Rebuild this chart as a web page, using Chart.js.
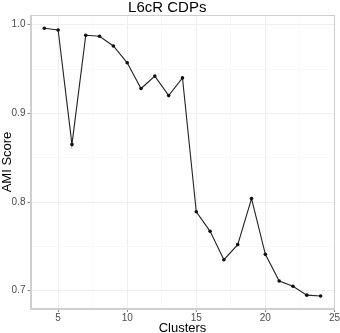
<!DOCTYPE html>
<html>
<head>
<meta charset="utf-8">
<script src="https://cdn.jsdelivr.net/npm/chart.js@4"></script>
<style>
html,body{margin:0;padding:0;background:#fff;}
#wrap{width:340px;height:333px;}
</style>
</head>
<body>
<div id="wrap"><canvas id="c" width="340" height="333"></canvas></div>
<script>
const clusters = [4,5,6,7,8,9,10,11,12,13,14,15,16,17,18,19,20,21,22,23,24];
const amiScores = [0.996,0.994,0.865,0.988,0.987,0.976,0.957,0.928,0.942,0.920,0.940,0.789,0.767,0.735,0.752,0.804,0.741,0.711,0.705,0.695,0.694];
const xTicks = [5,10,15,20,25];
const yTicks = [0.7,0.8,0.9,1.0];
const xMinor = [7.5,12.5,17.5,22.5];
const yMinor = [0.75,0.85,0.95];

const panelBorder = {
  id:'panelBorder',
  afterDraw(chart){
    const a = chart.chartArea, ctx = chart.ctx;
    ctx.save();
    ctx.strokeStyle = '#cfcfcf';
    ctx.lineWidth = 1;
    ctx.strokeRect(Math.round(a.left)+0.5, Math.round(a.top)+0.5, Math.round(a.right-a.left)-1, Math.round(a.bottom-a.top)-1);
    ctx.restore();
  }
};

const isMajor = (list, v) => list.some(t => Math.abs(t - v) < 1e-9);

new Chart(document.getElementById('c'), {
  type: 'line',
  data: {
    datasets: [{
      data: clusters.map((c,i)=>({x:c, y:amiScores[i]})),
      borderColor: '#222',
      backgroundColor: '#111',
      borderWidth: 1.1,
      pointRadius: 1.8,
      pointBorderWidth: 0,
      pointBackgroundColor: '#111',
      tension: 0,
      fill: false
    }]
  },
  options: {
    responsive: false,
    animation: false,
    devicePixelRatio: 1,
    layout: { padding: { left: 0, right: 5.5, top: 0, bottom: 0 } },
    plugins: {
      legend: { display: false },
      tooltip: { enabled: false },
      title: {
        display: true,
        text: 'L6cR CDPs',
        color: '#000',
        font: { family: 'Liberation Sans, Arial, sans-serif', size: 15, weight: 'normal', lineHeight: 1 },
        padding: { top: 0, bottom: 0 },
        align: 'center'
      }
    },
    scales: {
      x: {
        type: 'linear',
        min: 3.0,
        max: 25.0,
        afterBuildTicks: s => { s.ticks = [...xTicks, ...xMinor].sort((a,b)=>a-b).map(v=>({value:v})); },
        afterFit: s => { s.height = 24; },
        ticks: {
          autoSkip: false,
          maxRotation: 0,
          padding: 0,
          color: '#4d4d4d',
          font: { family: 'Liberation Sans, Arial, sans-serif', size: 10 },
          callback: v => isMajor(xTicks, v) ? String(v) : ''
        },
        grid: {
          color: ctx => isMajor(xTicks, ctx.tick.value) ? '#efefef' : '#f8f8f8',
          tickColor: ctx => isMajor(xTicks, ctx.tick.value) ? '#888' : 'rgba(0,0,0,0)',
          tickLength: 3,
          lineWidth: 1
        },
        border: { display: true, color: '#cfcfcf' },
        title: {
          display: true,
          text: 'Clusters',
          color: '#000',
          font: { family: 'Liberation Sans, Arial, sans-serif', size: 13, lineHeight: 1 },
          padding: { top: 0, bottom: -2 }
        }
      },
      y: {
        type: 'linear',
        min: 0.6794,
        max: 1.0109,
        afterBuildTicks: s => { s.ticks = [...yTicks, ...yMinor].sort((a,b)=>a-b).map(v=>({value:v})); },
        afterFit: s => { s.width = 30.5; },
        ticks: {
          autoSkip: false,
          padding: 2,
          color: '#4d4d4d',
          font: { family: 'Liberation Sans, Arial, sans-serif', size: 10 },
          callback: v => isMajor(yTicks, v) ? v.toFixed(1) : ''
        },
        grid: {
          color: ctx => isMajor(yTicks, ctx.tick.value) ? '#efefef' : '#f8f8f8',
          tickColor: ctx => isMajor(yTicks, ctx.tick.value) ? '#888' : 'rgba(0,0,0,0)',
          tickLength: 3,
          lineWidth: 1
        },
        border: { display: true, color: '#cfcfcf' },
        title: {
          display: true,
          text: 'AMI Score',
          color: '#000',
          font: { family: 'Liberation Sans, Arial, sans-serif', size: 13 },
          padding: { top: 0, bottom: 0 }
        }
      }
    }
  },
  plugins: [panelBorder]
});
</script>
</body>
</html>
